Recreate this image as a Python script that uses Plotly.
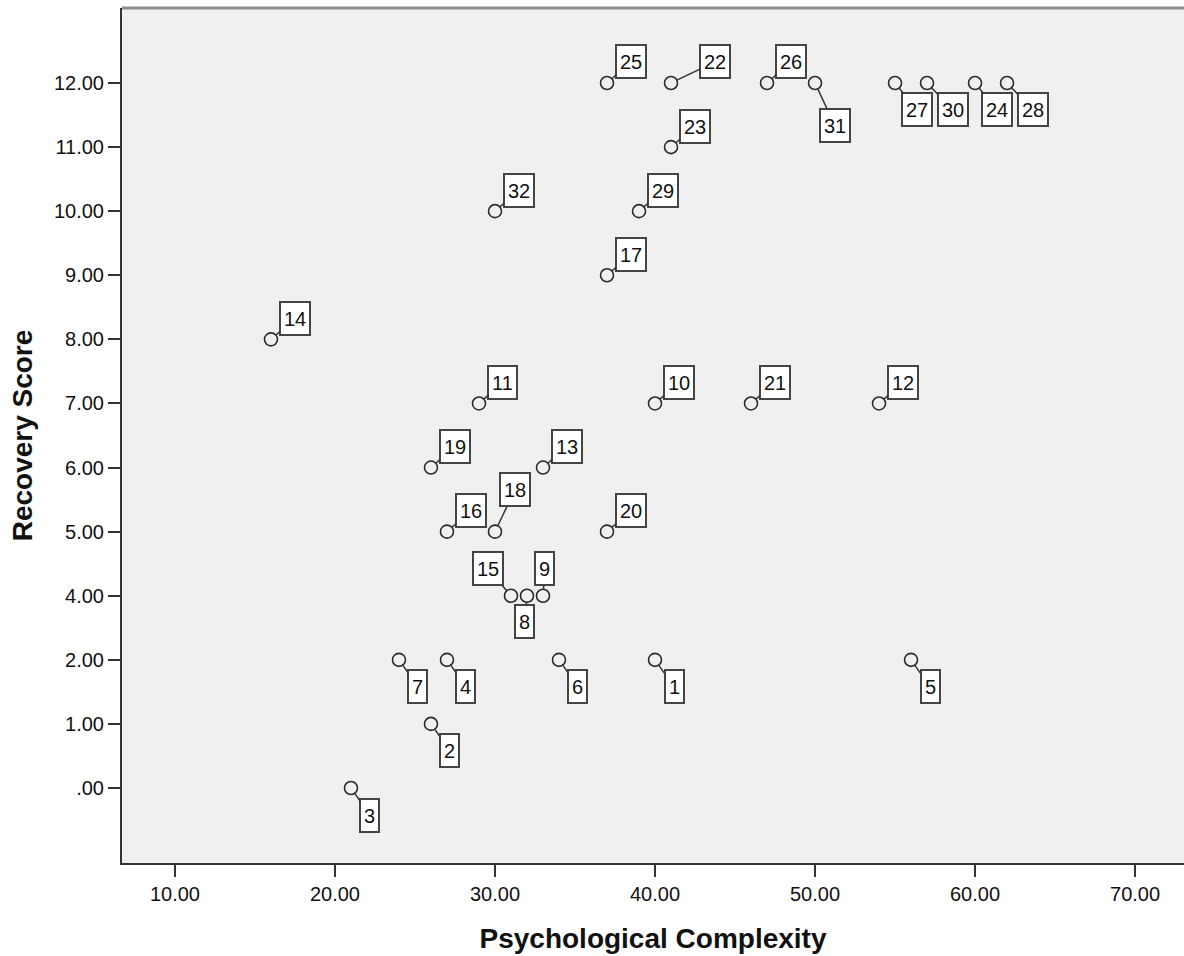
import plotly.graph_objects as go

# ---- data ----
case_ids = list(range(1, 33))
complexity = [40, 26, 21, 27, 56, 34, 24, 32, 33, 40, 29, 54, 33, 16, 31, 27,
              37, 30, 26, 37, 46, 41, 41, 60, 37, 47, 55, 62, 39, 57, 50, 30]
recovery = [2, 1, 0, 2, 2, 2, 2, 4, 4, 7, 7, 7, 6, 8, 4, 5,
            9, 5, 6, 5, 7, 12, 11, 12, 12, 12, 12, 12, 10, 12, 12, 10]
x_ticks = [10, 20, 30, 40, 50, 60, 70]
# the y axis is categorical in the reference: only observed scores, equally spaced
y_categories = [".00", "1.00", "2.00", "4.00", "5.00", "6.00", "7.00",
                "8.00", "9.00", "10.00", "11.00", "12.00"]


def score_label(v):
    return ".00" if v == 0 else f"{v:.2f}"


recovery_labels = [score_label(v) for v in recovery]

# ---- label placement (pixel offsets of the label box from its point) ----
default_offset = (24, -21)
label_offsets = {
    1: (19, 27), 2: (19, 27), 3: (19, 27), 4: (19, 27), 5: (19, 27),
    6: (19, 27), 7: (19, 27),
    8: (-2, 26), 9: (2, -27), 15: (-23, -27), 18: (20, -42),
    22: (44, -21), 31: (20, 43),
    27: (22, 27), 30: (26, 27), 24: (22, 27), 28: (26, 27),
}

FONT = "Arial, Liberation Sans, sans-serif"
DARK = "#333333"

fig = go.Figure()
fig.add_trace(go.Scatter(
    x=complexity, y=recovery_labels, mode="markers",
    marker=dict(symbol="circle", size=13, color="rgba(0,0,0,0)",
                line=dict(color="#2a2a2a", width=1.6)),
    hoverinfo="skip", showlegend=False,
))

annotations = []
for cid, xv, ylab in zip(case_ids, complexity, recovery_labels):
    ax, ay = label_offsets.get(cid, default_offset)
    annotations.append(dict(
        x=xv, y=y_categories.index(ylab), xref="x", yref="y", text=str(cid),
        showarrow=True, arrowhead=0, arrowwidth=1.5, arrowcolor=DARK,
        ax=ax, ay=ay, standoff=6.5,
        font=dict(family=FONT, size=20, color="#111111"),
        height=25,
        bgcolor="white", bordercolor="#444444", borderwidth=2, borderpad=3,
    ))

fig.update_layout(
    width=1184, height=956,
    margin=dict(l=122, r=0, t=8, b=93),
    paper_bgcolor="white", plot_bgcolor="#f0f0f0",
    font=dict(family=FONT, color="#111111"),
    annotations=annotations,
    shapes=[dict(type="line", xref="paper", yref="paper", x0=0, x1=1, y0=1, y1=1,
                 line=dict(color="#8c8c8c", width=3))],
    xaxis=dict(
        range=[6.69, 73.06], tickvals=x_ticks,
        ticktext=[f"{v:.2f}" for v in x_ticks],
        showgrid=False, zeroline=False,
        showline=True, linecolor=DARK, linewidth=2,
        ticks="outside", ticklen=12, tickwidth=2, tickcolor=DARK,
        tickfont=dict(size=20, family=FONT, color="#111111"),
        title=dict(text="<b>Psychological Complexity</b>", standoff=24,
                   font=dict(size=28, family=FONT, color="#111111")),
    ),
    yaxis=dict(
        type="category", categoryorder="array", categoryarray=y_categories,
        range=[-1.17, 12.17],
        showgrid=False, zeroline=False,
        showline=True, linecolor=DARK, linewidth=2,
        ticks="outside", ticklen=12, tickwidth=2, tickcolor=DARK,
        tickfont=dict(size=20, family=FONT, color="#111111"),
        title=dict(text="<b>Recovery Score</b>", standoff=13,
                   font=dict(size=28, family=FONT, color="#111111")),
    ),
)

fig.write_html(
    "out.html",
    config={"displayModeBar": False},
    post_script="document.body.style.margin='0';document.body.style.overflow='hidden';",
)
